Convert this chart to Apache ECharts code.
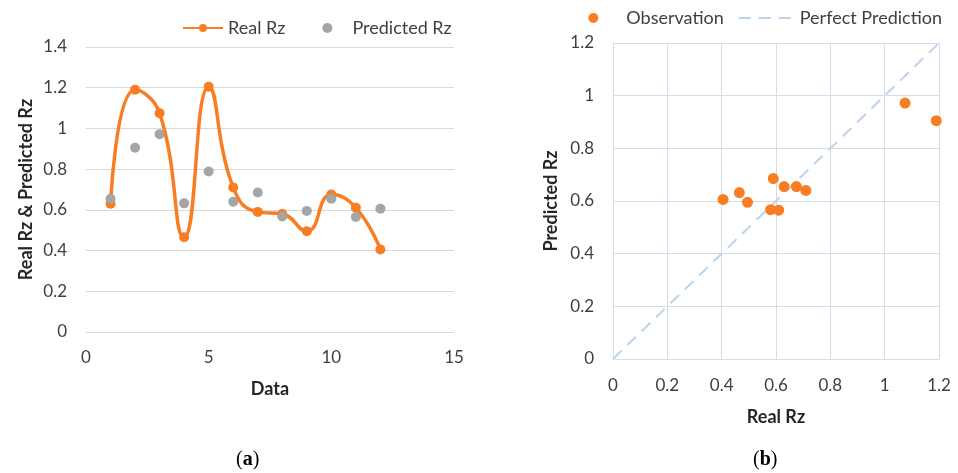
<!DOCTYPE html>
<html>
<head>
<meta charset="utf-8">
<script src="https://cdn.jsdelivr.net/npm/echarts@6/dist/echarts.min.js"></script>
<style>
  html, body { margin: 0; padding: 0; background: #fff; }
  #container { width: 958px; height: 473px; }
</style>
</head>
<body>
<div id="container"></div>
<script>
// (a) Rz per sample
var dataIndex = [1, 2, 3, 4, 5, 6, 7, 8, 9, 10, 11, 12];
var realRz = [0.63, 1.19, 1.075, 0.465, 1.205, 0.71, 0.59, 0.58, 0.495, 0.675, 0.61, 0.405];
var predictedRz = [0.655, 0.905, 0.972, 0.632, 0.788, 0.64, 0.685, 0.567, 0.595, 0.655, 0.565, 0.606];
// (b) perfect prediction line ends
var perfectLine = [0, 1.2];

var font = 'Lato';
var tickColor = '#404040';
var orange = '#F97D22';
var gray = '#A5A5A5';

var dom = document.getElementById('container');
var myChart = echarts.init(dom, null, { renderer: 'canvas' });

// build pairs
var lineData = [];
var predData = [];
var obsData = [];
for (var i = 0; i < dataIndex.length; i++) {
  lineData.push([dataIndex[i], realRz[i]]);
  predData.push([dataIndex[i], predictedRz[i]]);
  obsData.push([realRz[i], predictedRz[i]]);
}
var perfectData = [];
for (var j = 0; j < perfectLine.length; j++) {
  perfectData.push([perfectLine[j], perfectLine[j]]);
}

var option = {
  animation: false,
  textStyle: { fontFamily: font },
  legend: [
    {
      left: 177, top: 14,
      itemWidth: 40, itemHeight: 10, itemGap: 37,
      textStyle: { fontFamily: font, fontSize: 18, color: tickColor },
      data: ['Real Rz', 'Predicted Rz']
    },
    {
      right: 11, top: 4,
      itemWidth: 56, itemHeight: 10, itemGap: 14,
      textStyle: { fontFamily: font, fontSize: 18, color: tickColor },
      data: ['Observation', { name: 'Perfect Prediction', itemStyle: { opacity: 0 } }]
    }
  ],
  grid: [
    { left: 86, right: 504, top: 47, bottom: 141 },
    { left: 613, right: 19, top: 43, bottom: 114 }
  ],
  xAxis: [
    {
      gridIndex: 0, type: 'value', min: 0, max: 15, interval: 5,
      name: 'Data', nameLocation: 'middle', nameGap: 48,
      nameTextStyle: { fontFamily: font, fontSize: 18, fontWeight: 'bold', color: '#262626' },
      axisLine: { show: false }, axisTick: { show: false },
      axisLabel: { margin: 17, fontSize: 17, color: tickColor, fontFamily: font },
      splitLine: { show: false }
    },
    {
      gridIndex: 1, type: 'value', min: 0, max: 1.2, interval: 0.2,
      name: 'Real Rz', nameLocation: 'middle', nameGap: 49,
      nameTextStyle: { fontFamily: font, fontSize: 18, fontWeight: 'bold', color: '#262626' },
      axisLine: { show: true, lineStyle: { color: '#D3DCEA', width: 1 } },
      axisTick: { show: false },
      axisLabel: { margin: 18, fontSize: 17, color: tickColor, fontFamily: font },
      splitLine: { show: true, lineStyle: { color: '#D3DCEA', width: 1 } }
    }
  ],
  yAxis: [
    {
      gridIndex: 0, type: 'value', min: 0, max: 1.4, interval: 0.2,
      name: 'Real Rz & Predicted Rz', nameLocation: 'middle', nameGap: 51,
      nameTextStyle: { fontFamily: font, fontSize: 18, fontWeight: 'bold', color: '#262626' },
      axisLine: { show: false }, axisTick: { show: false },
      axisLabel: { margin: 19, fontSize: 17, color: tickColor, fontFamily: font },
      splitLine: { show: true, lineStyle: { color: '#D9D9D9', width: 1 } }
    },
    {
      gridIndex: 1, type: 'value', min: 0, max: 1.2, interval: 0.2,
      name: 'Predicted Rz', nameLocation: 'middle', nameGap: 53,
      nameTextStyle: { fontFamily: font, fontSize: 18, fontWeight: 'bold', color: '#262626' },
      axisLine: { show: true, lineStyle: { color: '#D3DCEA', width: 1 } },
      axisTick: { show: false },
      axisLabel: { margin: 19, fontSize: 17, color: tickColor, fontFamily: font },
      splitLine: { show: true, lineStyle: { color: '#D3DCEA', width: 1 } }
    }
  ],
  graphic: [
    {
      type: 'text', left: 236, top: 450,
      style: {
        text: '({a|a})',
        rich: { a: { fontWeight: 'bold', fontFamily: 'Liberation Serif', fontSize: 20, fill: '#000' } },
        font: '20px "Liberation Serif"', fill: '#000'
      }
    },
    {
      type: 'text', left: 753, top: 450,
      style: {
        text: '({b|b})',
        rich: { b: { fontWeight: 'bold', fontFamily: 'Liberation Serif', fontSize: 20, fill: '#000' } },
        font: '20px "Liberation Serif"', fill: '#000'
      }
    }
  ],
  series: [
    {
      name: 'Real Rz', type: 'line', xAxisIndex: 0, yAxisIndex: 0,
      smooth: 0.5, data: lineData,
      symbol: 'circle', symbolSize: 10,
      lineStyle: { color: orange, width: 3.5 },
      itemStyle: { color: orange }, z: 3
    },
    {
      name: 'Predicted Rz', type: 'scatter', xAxisIndex: 0, yAxisIndex: 0,
      data: predData, symbol: 'circle', symbolSize: 10,
      itemStyle: { color: gray, opacity: 1 }, z: 4
    },
    {
      name: 'Perfect Prediction', type: 'line', xAxisIndex: 1, yAxisIndex: 1,
      data: perfectData, showSymbol: false, symbol: 'none',
      lineStyle: { color: '#BDD2EC', width: 2, type: [12, 8] },
      itemStyle: { color: '#BDD2EC' }, z: 2
    },
    {
      name: 'Observation', type: 'scatter', xAxisIndex: 1, yAxisIndex: 1,
      data: obsData, symbol: 'circle', symbolSize: 11, clip: true,
      itemStyle: { color: orange, opacity: 1 }, z: 3
    }
  ]
};
myChart.setOption(option);
</script>
</body>
</html>
